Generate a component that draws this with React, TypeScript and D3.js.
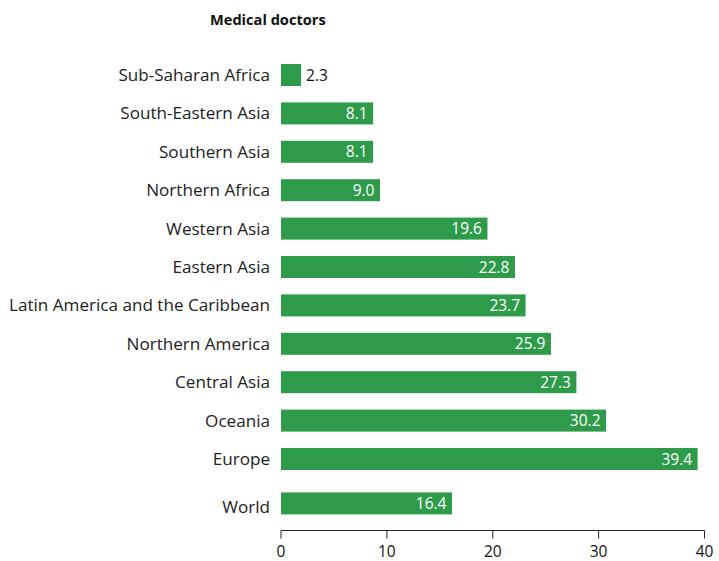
import React from "react";
import * as d3 from "d3";

const regions = [
  "Sub-Saharan Africa",
  "South-Eastern Asia",
  "Southern Asia",
  "Northern Africa",
  "Western Asia",
  "Eastern Asia",
  "Latin America and the Caribbean",
  "Northern America",
  "Central Asia",
  "Oceania",
  "Europe",
];
// printed labels
const valueLabels = ["2.3", "8.1", "8.1", "9.0", "19.6", "22.8", "23.7", "25.9", "27.3", "30.2", "39.4"];
// bar lengths as drawn in the picture
const barValues = [1.9, 8.7, 8.7, 9.35, 19.5, 22.1, 23.1, 25.5, 27.9, 30.7, 39.35];
const worldLabel = "World";
const worldValueLabel = "16.4";
const worldBarValue = 16.15;
const xTicks = [0, 10, 20, 30, 40];
const title = "Medical doctors";

const W = 719;
const H = 561;
const GREEN = "#2e9b4a";
const FONT = "'Open Sans', 'DejaVu Sans', sans-serif";

export default function App() {
  const x = d3.scaleLinear().domain([0, 40]).range([281, 704.5]);
  const y = d3
    .scaleBand<string>()
    .domain(regions)
    .range([55.8, 55.8 + 11 * 38.4])
    .paddingInner(0.427)
    .paddingOuter(0.2135);
  const bw = y.bandwidth();
  const worldY = (y("Europe") as number) + y.step() + 6;
  const axisY = 530.5;

  const rows = regions.map((r, i) => ({
    label: r,
    value: barValues[i],
    text: valueLabels[i],
    y: y(r) as number,
    extra: 0,
  }));
  rows.push({ label: worldLabel, value: worldBarValue, text: worldValueLabel, y: worldY, extra: 3.5 });

  return (
    <svg width={W} height={H} style={{ position: "absolute", left: 0, top: 0, background: "#fff" }} fontFamily={FONT}>
      <text x={210} y={25} fontSize={14.6} fontWeight={700} fill="#111">
        {title}
      </text>
      {rows.map((d) => {
        const x1 = x(d.value);
        const inside = x1 - x(0) > 40;
        return (
          <g key={d.label}>
            <text x={270} y={d.y + bw / 2 + d.extra} dy="0.35em" textAnchor="end" fontSize={17.1} fill="#222">
              {d.label}
            </text>
            <rect x={x(0)} y={d.y} width={x1 - x(0)} height={bw} fill={GREEN} />
            <text
              x={inside ? x1 - 5.5 : x1 + 5}
              y={d.y + bw / 2}
              dy="0.36em"
              textAnchor={inside ? "end" : "start"}
              fontSize={15.5}
              fill={inside ? "#fff" : "#111"}
            >
              {d.text}
            </text>
          </g>
        );
      })}
      <line x1={x(0)} x2={x(40)} y1={axisY} y2={axisY} stroke="#222" strokeWidth={1} />
      {xTicks.map((t) => (
        <g key={t}>
          <line x1={x(t)} x2={x(t)} y1={axisY} y2={axisY + 8} stroke="#222" strokeWidth={1} />
          <text x={x(t)} y={axisY + 26} textAnchor="middle" fontSize={15.5} fill="#111">
            {t}
          </text>
        </g>
      ))}
    </svg>
  );
}
